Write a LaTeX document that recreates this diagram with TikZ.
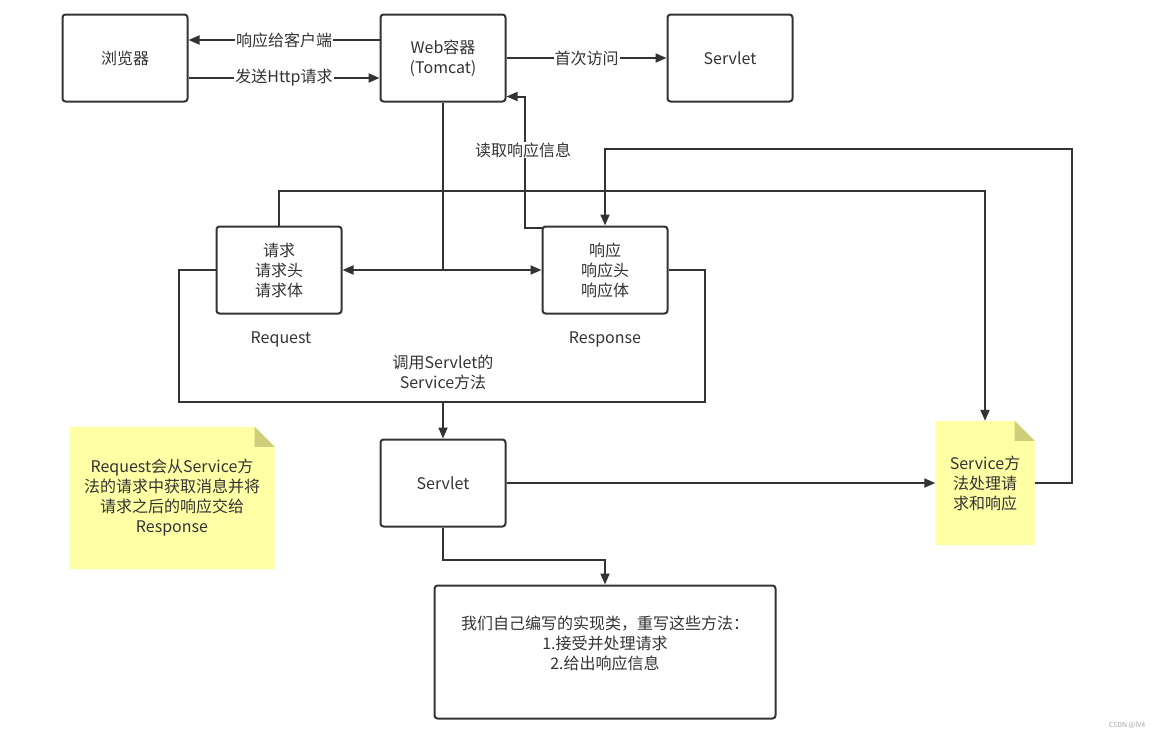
\documentclass[tikz,border=0pt]{standalone}
\usepackage{fontspec}
\setmainfont{Noto Sans CJK SC}
\usetikzlibrary{arrows.meta, positioning, backgrounds}
\definecolor{ink}{RGB}{51,51,51}
\definecolor{notebg}{RGB}{255,255,166}
\definecolor{notefold}{RGB}{205,205,122}
\tikzset{
        x=1pt, y=-1pt, % pixel-like coordinates, y grows downwards
        >={Triangle[length=11pt,width=9pt]}, % filled arrow heads
        every node/.style={text=ink, font=\fontsize{16}{20}\selectfont},
        flow/.style={draw=ink, line width=2pt}, % the connectors
        box/.style={draw=ink, line width=2pt, rounded corners=3pt, minimum width=125pt, minimum height=87pt, align=center},
        note/.style={minimum width=#1, align=center}, % yellow notes
        lbl/.style={fill=white, inner sep=1pt}, % text on an edge
        }

\begin{document}
\begin{tikzpicture}
        \useasboundingbox (0,0) rectangle (1151,739);
        % boxes
        \node[box] (Browser) at (125,58) {浏览器};
        \node[box, right of=Browser, node distance=318pt] (Web) {Web容器\\(Tomcat)};
        \node[box, right of=Web, node distance=287pt] (ServletTop) {Servlet};
        \node[box] (Request) at (279,270) {请求\\请求头\\请求体};
        \node[box] (Response) at (605,270) {响应\\响应头\\响应体};
        \node (ReqName) at (281,339) {Request};
        \node (RespName) at (605,339) {Response};
        \node[align=center] (CallText) at (443,372) {调用Servlet的\\Service方法};
        \node[box] (Servlet) at (443,483) {Servlet};
        \node[box, minimum width=341pt, minimum height=133pt] (Impl) at (605,652) {};
        \node[align=center] (ImplText) at (605,643) {我们自己编写的实现类，重写这些方法：\\1.接受并处理请求\\2.给出响应信息};
        \node[note=99pt, minimum height=124pt] (ServiceNote) at (985,483) {Service方\\法处理请\\求和响应};
        \node[note=205pt, minimum height=142pt] (InfoNote) at (172,498) {Request会从Service方\\法的请求中获取消息并将\\请求之后的响应交给\\Response};
        \node[font=\fontsize{7}{8}\selectfont, text=black!35] (Mark) at (1127,725) {CSDN @lV4};

        % note backgrounds with a folded corner
        \begin{scope}[on background layer]
        \foreach \n in {ServiceNote, InfoNote} {
                \fill[notebg] (\n.south west) -- (\n.north west) -- ([xshift=-20pt]\n.north east)
                        -- ([yshift=-20pt]\n.north east) -- (\n.south east) -- cycle;
                \fill[notefold] ([xshift=-20pt]\n.north east) -- ([yshift=-20pt]\n.north east)
                        -- ([xshift=-20pt,yshift=-20pt]\n.north east) -- cycle;
        }
        \end{scope}

        % browser <-> container
        \draw[flow, ->] ([yshift=18pt]Web.west) -- node[lbl]{响应给客户端} ([yshift=18pt]Browser.east);
        \draw[flow, ->] ([yshift=-20pt]Browser.east) -- node[lbl]{发送Http请求} ([yshift=-20pt]Web.west);
        \draw[flow, ->] (Web.east) -- node[lbl]{首次访问} (ServletTop.west);

        % container hands out request and response
        \coordinate (Split) at (Web.south |- Request.east);
        \draw[flow] (Web.south) -- (Split);
        \draw[flow, ->] (Split) -- (Request.east);
        \draw[flow, ->] (Split) -- (Response.west);
        \draw[flow, ->] ([yshift=-2pt]Response.north west) -| ([xshift=18pt,yshift=6pt]Web.south east) -- ([yshift=6pt]Web.south east);
        \node[lbl] (ReadLbl) at (523,150) {读取响应信息};

        % call of the service method
        \draw[flow] (Request.west) -| (179,402) -| (705,270) -- (Response.east);
        \coordinate (LoopBottom) at (443,402);
        \draw[flow, ->] (LoopBottom) -- (Servlet.north);
        \draw[flow, ->] (Request.north) -- ++(0,-35) -| (ServiceNote.north);
        \draw[flow, ->] (ServiceNote.east) -| (1072,149) -| (Response.north);
        \draw[flow, ->] (Servlet.east) -- (ServiceNote.west);
        \draw[flow, ->] (Servlet.south) -- ++(0,32) -| (Impl.north);
\end{tikzpicture}
\end{document}
